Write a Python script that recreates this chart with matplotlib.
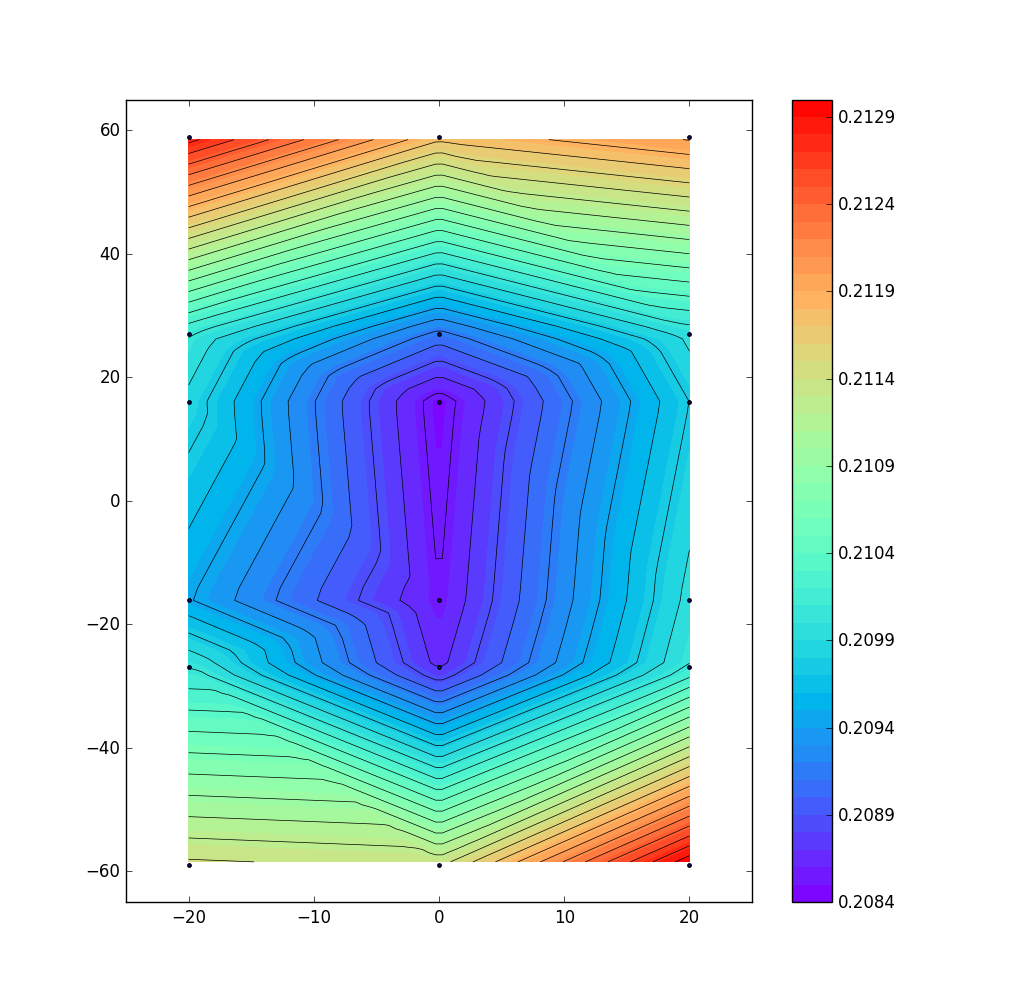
import numpy as np
import matplotlib
matplotlib.use('Agg')
import matplotlib.pyplot as plt
import matplotlib.tri as mtri

plt.style.use('classic')

# measurement sites
x_sites = [-20, 0, 20]
y_sites = [59, 27, 16, -16, -27, -59]

# values, one row per y site
z_y59 = [0.21284, 0.21176, 0.21204]
z_y27 = [0.21005, 0.20909, 0.20995]
z_y16 = [0.20985, 0.20846, 0.20975]
z_ym16 = [0.20946, 0.20855, 0.20995]
z_ym27 = [0.21005, 0.20866, 0.21005]
z_ym59 = [0.21144, 0.21137, 0.21304]

# site index pairs: row * 3 + column
triangles = [
    [0, 1, 3], [1, 3, 4], [1, 2, 5], [1, 4, 5],
    [3, 4, 7], [3, 6, 7], [4, 5, 7], [5, 7, 8],
    [6, 7, 10], [6, 9, 10], [7, 8, 11], [7, 10, 11],
    [9, 10, 12], [10, 12, 13], [10, 11, 14], [10, 13, 14],
    [12, 15, 16], [12, 13, 16], [13, 14, 16], [14, 16, 17],
]

fill_levels = np.arange(0.2084, 0.21305, 0.0001)
line_levels = np.arange(0.20855, 0.21310, 0.00015)
cbar_ticks = np.arange(0.2084, 0.2130, 0.0005)


def main():
    xx, yy = np.meshgrid(x_sites, y_sites)
    z = np.array([z_y59, z_y27, z_y16, z_ym16, z_ym27, z_ym59])

    tri = mtri.Triangulation(xx.ravel(), yy.ravel(), triangles)
    interp = mtri.LinearTriInterpolator(tri, z.ravel())

    xi = np.linspace(-20, 20, 76)
    yi = np.linspace(-58.5, 58.5, 59)
    gx, gy = np.meshgrid(xi, yi)
    zi = interp(gx, gy)

    fig = plt.figure(figsize=(10.10, 10.03), dpi=100)
    ax = fig.add_axes([126 / 1010, 1 - 903 / 1003, 626 / 1010, 802.5 / 1003])
    cax = fig.add_axes([792 / 1010, 1 - 903 / 1003, 40 / 1010, 802.5 / 1003])

    cf = ax.contourf(gx, gy, zi, levels=fill_levels, cmap='rainbow')
    ax.contour(gx, gy, zi, levels=line_levels, colors='k', linewidths=0.5)
    ax.scatter(xx.ravel(), yy.ravel(), marker='o', c='b', s=6)

    ax.set_xlim(-25, 25)
    ax.set_ylim(-65, 65)
    ax.set_xticks([-20, -10, 0, 10, 20])
    ax.set_yticks([-60, -40, -20, 0, 20, 40, 60])

    cb = fig.colorbar(cf, cax=cax, ticks=cbar_ticks, format='%.4f')
    cb.ax.tick_params(labelsize=12)

    fig.savefig('out.png', dpi=100)


if __name__ == "__main__":
    main()
